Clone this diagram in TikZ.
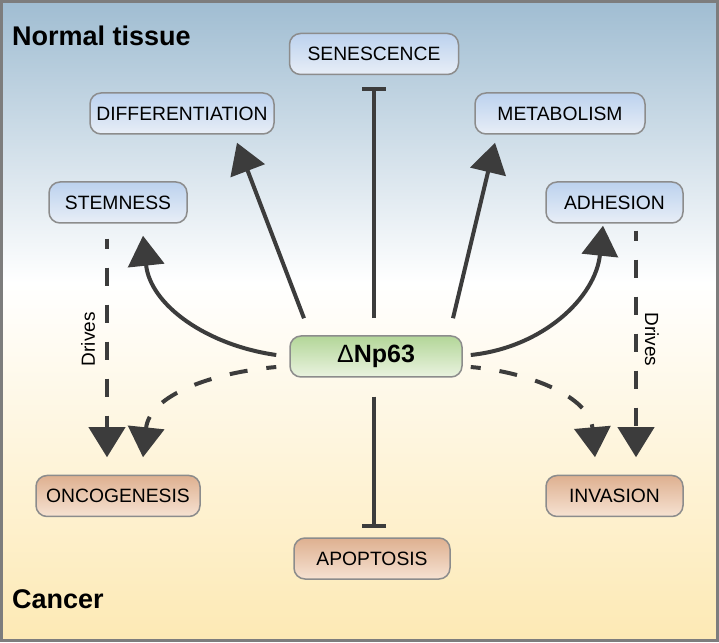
\documentclass[tikz,border=0pt]{standalone}
\usepackage{fontspec}
\setmainfont{Liberation Sans}
\usepackage{xcolor}
\usepackage{tikz}
\usetikzlibrary{shapes,arrows.meta}
\usetikzlibrary{positioning}
\usetikzlibrary{calc}
\definecolor{bgtop}{RGB}{160,189,210}
\definecolor{bgbot}{RGB}{253,233,180}
\definecolor{framegray}{RGB}{125,125,125}
\definecolor{boxgray}{RGB}{140,140,140}
\definecolor{arrowgray}{RGB}{60,60,60}
\definecolor{bluetop}{RGB}{188,210,238}
\definecolor{bluebot}{RGB}{232,238,247}
\definecolor{orangetop}{RGB}{222,176,144}
\definecolor{orangebot}{RGB}{246,226,210}
\definecolor{greentop}{RGB}{179,214,152}
\definecolor{greenbot}{RGB}{234,243,224}
\pgfdeclareverticalshading{tissuebg}{100bp}{color(0bp)=(bgbot);
  color(25bp)=(bgbot); color(53bp)=(white); color(75bp)=(bgtop);
  color(100bp)=(bgtop)}
\tikzstyle{block} = [rectangle, draw=boxgray, line width=1.5pt,
    rounded corners=11pt, minimum height=41pt, inner sep=2pt, text centered,
    font=\fontsize{19.3pt}{21pt}\selectfont]
\tikzstyle{healthy} = [block, top color=bluetop, bottom color=bluebot]
\tikzstyle{cancer} = [block, top color=orangetop, bottom color=orangebot]
\tikzstyle{hub} = [block, top color=greentop, bottom color=greenbot,
    font=\fontsize{25pt}{28pt}\selectfont\bfseries]
\tikzstyle{title} = [anchor=west, inner sep=0pt,
    font=\fontsize{27pt}{30pt}\selectfont\bfseries]
\tikzstyle{line} = [draw, line width=4pt, arrowgray,
    -{Triangle[length=30pt, width=36pt]}]
\tikzstyle{dline} = [line, dash pattern=on 18pt off 19pt, dash phase=8pt]
\tikzstyle{inhibit} = [draw, line width=4pt, arrowgray, -{Bar[width=24pt]}]
\tikzstyle{drives} = [text=black, font=\fontsize{19pt}{21pt}\selectfont]

\begin{document}
\begin{tikzpicture}[x=1pt, y=1pt]
  % Background
  \useasboundingbox (0,0) rectangle (719,642);
  \draw [draw=framegray, line width=3pt, shade, shading=tissuebg]
    (1.5,1.5) rectangle (717.5,640.5);
  \node [title] (normaltitle) at (12,606) {Normal tissue};
  \node [title] (cancertitle) at (12,42.5) {Cancer};

  % Place nodes
  \node [hub, minimum width=172pt] (np63) at (376,285.5) {{\mdseries Δ}Np63};
  \node [healthy, minimum width=169pt] (senes) at (374,588) {SENESCENCE};
  \node [healthy, minimum width=184pt] (diff) at (182,528.5) {DIFFERENTIATION};
  \node [healthy, minimum width=170pt] (metab) at (560,528.5) {METABOLISM};
  \node [healthy, minimum width=138pt] (stem) at (118,439.5) {STEMNESS};
  \node [healthy, minimum width=137pt] (adh) at (614.5,439.5) {ADHESION};
  \node [cancer, minimum width=164pt] (onco) at (118,146) {ONCOGENESIS};
  \node [cancer, minimum width=137pt] (inv) at (614.5,146) {INVASION};
  \node [cancer, minimum width=156pt] (apop) at (372,83.5) {APOPTOSIS};

  % Straight connectors
  \path [line] ($(np63.north)+(-72,17)$) -- ($(diff.south)+(55,-8)$);
  \path [line] ($(np63.north)+(77,17)$) -- ($(metab.south)+(-65,-8)$);
  \path [inhibit] ($(np63.north)+(-2,17)$) -- ($(senes.south)+(0,-12)$);
  \path [inhibit] ($(np63.south)+(-2,-19)$) -- ($(apop.north)+(2,9)$);

  % Curved connectors
  \path [line] ($(np63.west)+(-13,1.5)$) to[out=172, in=-84]
    ($(stem.south)+(25,-12)$);
  \path [line] ($(np63.east)+(8,1.5)$) to[out=6, in=-96]
    ($(adh.south)+(-11.5,-2)$);
  \path [dline] ($(np63.west)+(-13,-10.5)$) to[out=185, in=84]
    ($(onco.north)+(25,17.5)$);
  \path [dline] ($(np63.east)+(8,-10.5)$) to[out=-5, in=95]
    ($(inv.north)+(-19.5,17.5)$);

  % Drives
  \path [dline] ($(stem.south)+(-11,-15)$) -- node [drives, rotate=90,
    anchor=south, inner sep=10pt, pos=0.46] {Drives} ($(onco.north)+(-11,17.5)$);
  \path [dline] ($(adh.south)+(21.5,-7)$) -- node [drives, rotate=-90,
    anchor=south, inner sep=7pt, pos=0.48] {Drives} ($(inv.north)+(21.5,17.5)$);

\end{tikzpicture}
\end{document}
